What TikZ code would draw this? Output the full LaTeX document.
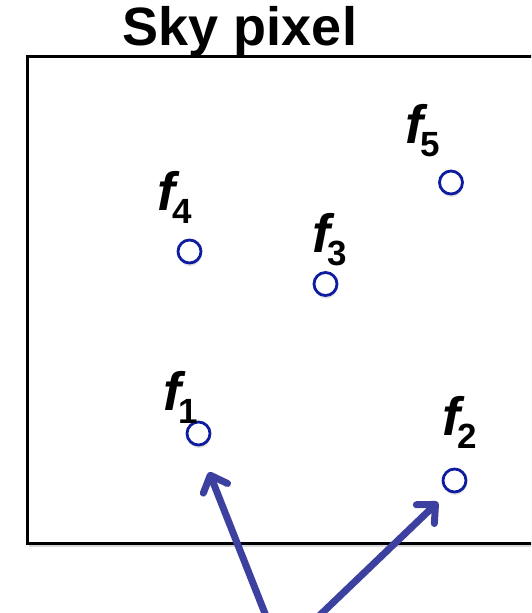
\documentclass[tikz,border=0pt]{standalone}
\usepackage{fontspec}
\setmainfont{Liberation Sans}
\usetikzlibrary{arrows.meta,shadows}
\definecolor{ptblue}{RGB}{14,28,160}
\definecolor{arrblue}{RGB}{60,64,158}
\newcommand{\flabel}[1]{{\fontsize{54}{54}\selectfont\bfseries\itshape f}\kern-2pt\raisebox{-13pt}{\fontsize{35}{35}\selectfont\bfseries #1}}
\begin{document}
\begin{tikzpicture}[x=1pt,y=-1pt,
  ptcircle/.style={circle,draw=ptblue,line width=2.8pt,fill=white,minimum size=23pt,inner sep=0pt,
    drop shadow={shadow xshift=0.5pt,shadow yshift=-3pt,opacity=0.25}},
  flab/.style={anchor=base west,inner sep=0pt,outer sep=0pt},
  arr/.style={draw=arrblue,line width=7pt,line join=round,
    -{Straight Barb[length=14pt,width=26pt,line cap=round,line join=round]}}]
\useasboundingbox (0,0) rectangle (531,613);
\clip (0,0) rectangle (531,613);
\fill[white] (0,0) rectangle (531,613);
% pixel frame
\fill[black!30,opacity=0.5] (29,60) rectangle (560,547);
\draw[line width=3pt,fill=white] (27,56) rectangle (560,543);
% title
\node[anchor=base,inner sep=0pt] (title) at (240,45) {\fontsize{54}{54}\selectfont\bfseries Sky pixel};
% points
\node[ptcircle] (c1) at (198.5,433.5) {};
\node[ptcircle] (c2) at (454.5,480.5) {};
\node[ptcircle] (c3) at (325.5,284) {};
\node[ptcircle] (c4) at (189.5,251.5) {};
\node[ptcircle] (c5) at (451,182.5) {};
% labels
\node[flab] (l1) at (163,410) {\flabel{1}};
\node[flab] (l2) at (442,435) {\flabel{2}};
\node[flab] (l3) at (312,252) {\flabel{3}};
\node[flab] (l4) at (157,210) {\flabel{4}};
\node[flab] (l5) at (405,143) {\flabel{5}};
% arrows
\coordinate (a1s) at (266,616);
\coordinate (a1e) at (209,472);
\coordinate (a2s) at (319,616);
\coordinate (a2e) at (438,502);
\draw[arr] (a1s) -- (a1e);
\draw[arr] (a2s) -- (a2e);
\end{tikzpicture}
\end{document}
